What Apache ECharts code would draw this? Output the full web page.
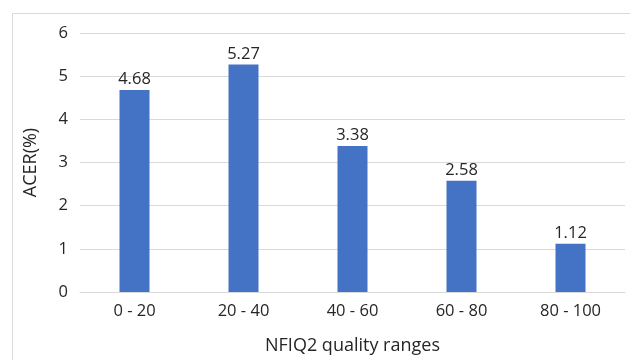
<!DOCTYPE html>
<html><head><meta charset="utf-8">
<script src="https://cdn.jsdelivr.net/npm/echarts@6/dist/echarts.min.js"></script>
<style>html,body{margin:0;padding:0;background:#fff}#c{width:630px;height:360px}</style>
</head><body><div id="c"></div>
<script>
const categories = ['0 - 20', '20 - 40', '40 - 60', '60 - 80', '80 - 100'];
const acer = [4.68, 5.27, 3.38, 2.58, 1.12];
const yTicks = [0, 1, 2, 3, 4, 5, 6];
const chart = echarts.init(document.getElementById('c'), null, {renderer: 'canvas'});
const font = '"Open Sans", "Noto Sans", sans-serif';
const txt = '#262626';
chart.setOption({
  animation: false,
  backgroundColor: '#fff',
  graphic: [{type: 'rect', shape: {x: 12.5, y: 13.5, width: 630, height: 360}, style: {fill: 'none', stroke: '#d9d9d9', lineWidth: 1}}],
  grid: {left: 80, right: 5, top: 33, bottom: 67},
  xAxis: {
    type: 'category', data: categories,
    name: 'NFIQ2 quality ranges', nameLocation: 'middle', nameGap: 45,
    nameTextStyle: {fontFamily: font, fontSize: 18, color: txt},
    axisLine: {lineStyle: {color: '#d9d9d9'}}, axisTick: {show: false},
    axisLabel: {fontFamily: font, fontSize: 16.5, color: txt, margin: 11}
  },
  yAxis: {
    type: 'value', min: 0, max: 6, interval: 1,
    name: 'ACER(%)', nameLocation: 'middle', nameGap: 40, nameRotate: 90,
    nameTextStyle: {fontFamily: font, fontSize: 18, color: txt},
    axisLine: {show: false}, axisTick: {show: false},
    splitLine: {lineStyle: {color: '#d9d9d9'}},
    axisLabel: {fontFamily: font, fontSize: 16.5, color: txt, margin: 12,
      formatter: v => yTicks.includes(v) ? String(v) : ''}
  },
  series: [{
    type: 'bar', data: acer, barWidth: 30,
    itemStyle: {color: '#4472C4'},
    label: {show: true, position: 'top', distance: 2, fontFamily: font, fontSize: 16.5, color: txt,
      formatter: p => p.value.toFixed(2)}
  }]
});
</script></body></html>
